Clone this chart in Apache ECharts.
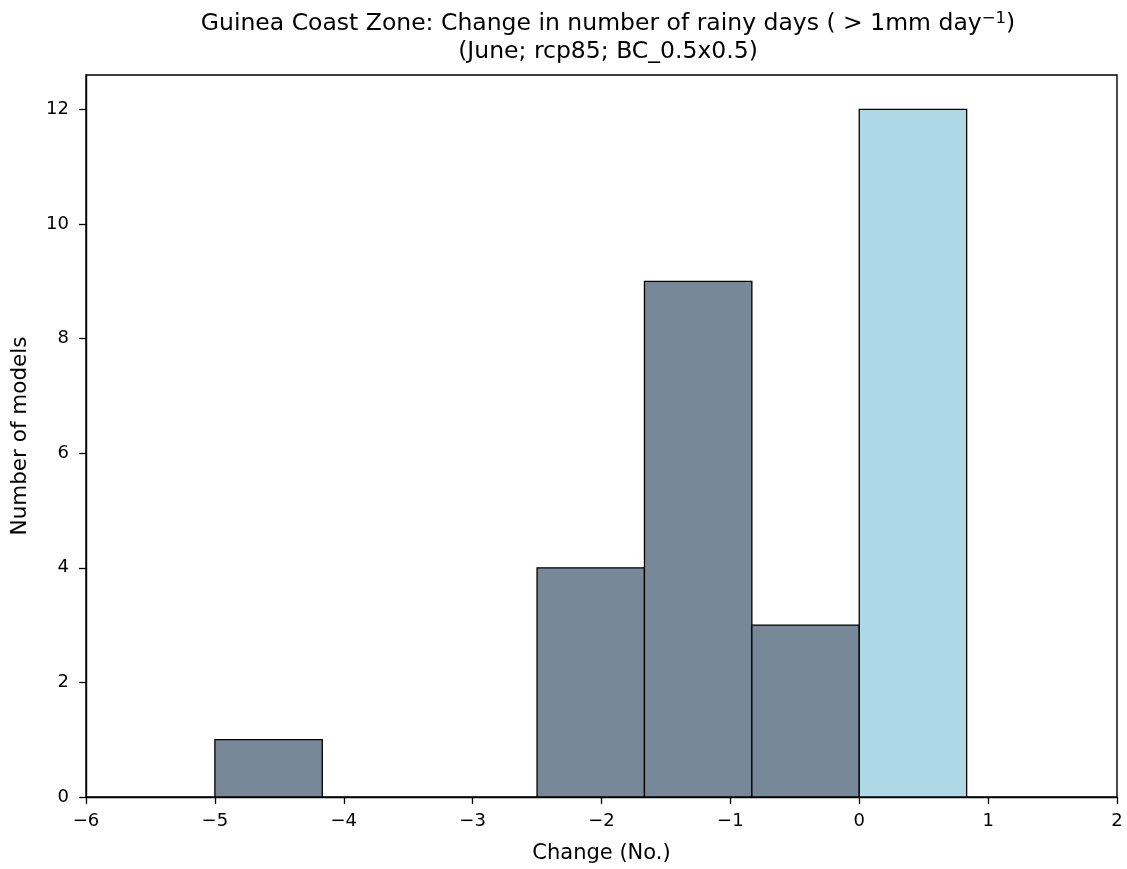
<!DOCTYPE html>
<html><head><meta charset="utf-8">
<script src="https://cdn.jsdelivr.net/npm/echarts@6/dist/echarts.min.js"></script>
<style>html,body{margin:0;padding:0;background:#fff}#c{width:1127px;height:869px}</style>
</head><body><div id="c"></div>
<script>
const binStarts = [-5, -4.1667, -3.3333, -2.5, -1.6667, -0.8333, 0];
const binEnds   = [-4.1667, -3.3333, -2.5, -1.6667, -0.8333, 0, 0.8333];
const counts    = [1, 0, 0, 4, 9, 3, 12];
const xTicks = [-6, -5, -4, -3, -2, -1, 0, 1, 2];
const yTicks = [0, 2, 4, 6, 8, 10, 12];

const data = binStarts.map((s, i) => [s, binEnds[i], counts[i]]);
const FONT = 'DejaVu Sans';
const chart = echarts.init(document.getElementById('c'), null, {renderer: 'canvas'});
const fmt = v => (v < 0 ? '\u2212' + Math.abs(v) : String(v));
chart.setOption({
  animation: false,
  backgroundColor: '#fff',
  textStyle: {fontFamily: FONT},
  title: {
    text: 'Guinea Coast Zone: Change in number of rainy days ( > 1mm day{sup|\u22121})\n(June; rcp85; BC_0.5x0.5)',
    left: 603, top: 5, textAlign: 'center',
    textStyle: {fontFamily: FONT, fontSize: 23.5, fontWeight: 'normal', color: '#000', lineHeight: 28,
      rich: {sup: {fontFamily: FONT, fontSize: 16.5, color: '#000', verticalAlign: 'top', lineHeight: 28, padding: [0, 0, 10, 0]}}}
  },
  grid: {left: 86, right: 10, top: 75, bottom: 70, show: true, borderColor: '#000', borderWidth: 1.4},
  xAxis: {
    type: 'value', min: xTicks[0], max: xTicks[xTicks.length - 1], interval: 1,
    name: 'Change (No.)', nameLocation: 'middle', nameGap: 46,
    nameTextStyle: {fontFamily: FONT, fontSize: 21, color: '#000'},
    axisLine: {show: true, onZero: false, lineStyle: {color: '#000', width: 1.4}},
    axisTick: {show: true, inside: false, length: 7, lineStyle: {color: '#000', width: 1.3}},
    axisLabel: {fontFamily: FONT, fontSize: 18, color: '#000', margin: 15, formatter: fmt},
    splitLine: {show: false}
  },
  yAxis: {
    type: 'value', min: 0, max: 12.6, interval: 2,
    name: 'Number of models', nameLocation: 'middle', nameGap: 55,
    nameTextStyle: {fontFamily: FONT, fontSize: 21.5, color: '#000'},
    axisLine: {show: true, onZero: false, lineStyle: {color: '#000', width: 1.4}},
    axisTick: {show: true, inside: false, length: 7, lineStyle: {color: '#000', width: 1.3}},
    axisLabel: {fontFamily: FONT, fontSize: 18, color: '#000', margin: 17, showMaxLabel: false,
      formatter: v => (yTicks.indexOf(v) >= 0 ? String(v) : '')},
    splitLine: {show: false}
  },
  series: [{
    type: 'custom',
    data: data,
    encode: {x: [0, 1], y: 2},
    renderItem: function (params, api) {
      const s = api.value(0), e = api.value(1), c = api.value(2);
      if (!c) return null;
      const p0 = api.coord([s, 0]);
      const p1 = api.coord([e, c]);
      return {
        type: 'rect',
        shape: {x: p0[0], y: p1[1], width: p1[0] - p0[0], height: p0[1] - p1[1]},
        style: {fill: s >= 0 ? '#ADD8E6' : '#778899', stroke: '#000', lineWidth: 1.3}
      };
    }
  }]
});
</script></body></html>
